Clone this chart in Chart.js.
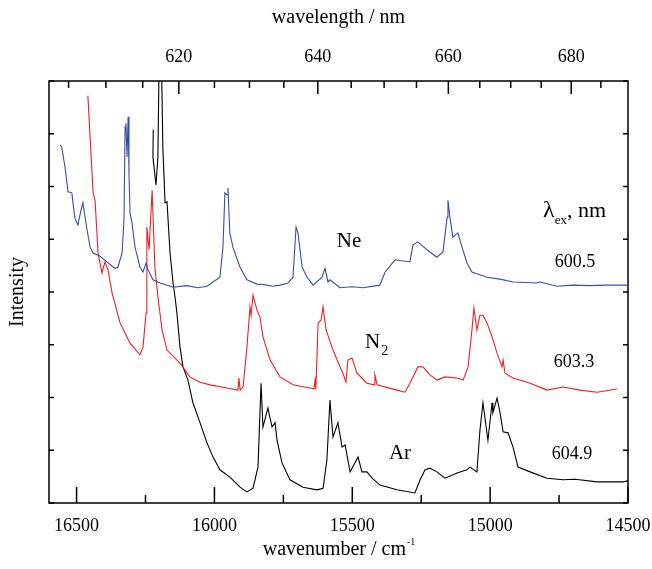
<!DOCTYPE html>
<html>
<head>
<meta charset="utf-8">
<script src="https://cdn.jsdelivr.net/npm/chart.js@4"></script>
<style>
  html, body { margin: 0; padding: 0; background: #fff; }
  #wrap { width: 652px; height: 569px; }
</style>
</head>
<body>
<div id="wrap"><canvas id="spec"></canvas></div>
<script>
// ---- spectra (wavenumber / cm-1, intensity in arbitrary units) ----
const neWn = [16560, 16554, 16542, 16531, 16517, 16513, 16506, 16495, 16484, 16477, 16473, 16462, 16451, 16440, 16415, 16390, 16361, 16350, 16335, 16328, 16324, 16321, 16317, 16313, 16310, 16306, 16299, 16288, 16270, 16259, 16248, 16241, 16223, 16197, 16150, 16100, 16060, 16027, 15980, 15969, 15962, 15954, 15951, 15944, 15933, 15907, 15882, 15846, 15820, 15788, 15762, 15733, 15715, 15704, 15697, 15682, 15664, 15642, 15610, 15599, 15588, 15581, 15545, 15500, 15461, 15400, 15381, 15345, 15291, 15280, 15262, 15229, 15193, 15171, 15156, 15153, 15146, 15135, 15117, 15102, 15084, 15066, 15011, 14960, 14917, 14870, 14830, 14819, 14757, 14700, 14640, 14580, 14504];
const neI  = [6.79, 6.75, 6.37, 5.90, 5.88, 5.69, 5.40, 5.27, 5.55, 5.69, 5.55, 5.18, 4.85, 4.74, 4.68, 4.57, 4.45, 4.47, 4.74, 5.36, 7.13, 7.20, 6.56, 7.32, 6.26, 5.50, 5.31, 4.85, 4.47, 4.38, 4.55, 4.42, 4.23, 4.17, 4.09, 4.12, 4.08, 4.11, 4.28, 4.85, 5.88, 5.84, 5.97, 5.12, 4.85, 4.47, 4.23, 4.15, 4.14, 4.11, 4.13, 4.17, 4.28, 5.23, 5.12, 4.47, 4.28, 4.13, 4.28, 4.45, 4.19, 4.23, 4.08, 4.10, 4.08, 4.13, 4.38, 4.61, 4.57, 4.89, 4.95, 4.80, 4.66, 4.76, 5.42, 5.74, 5.42, 5.04, 5.12, 4.85, 4.55, 4.38, 4.28, 4.24, 4.19, 4.18, 4.17, 4.19, 4.11, 4.13, 4.12, 4.13, 4.13];

const n2Wn = [16459, 16440, 16433, 16422, 16408, 16397, 16386, 16371, 16342, 16306, 16270, 16259, 16248, 16245, 16237, 16226, 16216, 16205, 16190, 16172, 16125, 16089, 16052, 16016, 15954, 15915, 15911, 15907, 15896, 15882, 15871, 15867, 15860, 15846, 15835, 15824, 15798, 15762, 15715, 15653, 15639, 15635, 15632, 15624, 15613, 15606, 15595, 15574, 15555, 15534, 15523, 15516, 15501, 15483, 15447, 15421, 15418, 15410, 15338, 15309, 15291, 15262, 15244, 15218, 15193, 15164, 15120, 15098, 15080, 15066, 15059, 15048, 15037, 15026, 15011, 14993, 14975, 14957, 14953, 14946, 14917, 14855, 14794, 14736, 14674, 14612, 14540];
const n2I  = [7.72, 5.88, 5.74, 4.74, 4.36, 4.57, 4.42, 3.98, 3.41, 3.03, 2.81, 2.96, 3.60, 5.23, 4.80, 5.93, 4.47, 3.91, 3.28, 2.90, 2.65, 2.39, 2.29, 2.24, 2.18, 2.14, 2.37, 2.14, 2.20, 2.96, 3.72, 3.56, 3.94, 3.66, 3.53, 3.15, 2.71, 2.39, 2.24, 2.18, 2.16, 2.33, 2.16, 3.41, 3.47, 3.72, 3.28, 2.96, 2.71, 2.46, 2.29, 2.71, 2.75, 2.46, 2.27, 2.24, 2.43, 2.24, 2.14, 2.10, 2.27, 2.58, 2.58, 2.43, 2.33, 2.39, 2.37, 2.33, 2.58, 3.28, 3.70, 3.28, 3.56, 3.56, 3.41, 3.15, 2.84, 2.58, 2.71, 2.46, 2.37, 2.27, 2.14, 2.20, 2.14, 2.10, 2.16];

const arWn = [16222, 16223, 16212, 16205, 16198, 16194, 16187, 16179, 16172, 16161, 16150, 16143, 16136, 16125, 16114, 16096, 16078, 16052, 16027, 16005, 15980, 15944, 15907, 15882, 15860, 15842, 15831, 15824, 15806, 15791, 15780, 15773, 15755, 15726, 15679, 15628, 15606, 15592, 15581, 15570, 15552, 15537, 15526, 15508, 15479, 15465, 15447, 15428, 15400, 15338, 15273, 15254, 15236, 15218, 15193, 15164, 15120, 15084, 15073, 15048, 15037, 15026, 15008, 14993, 14990, 14975, 14964, 14953, 14935, 14917, 14899, 14855, 14794, 14736, 14692, 14612, 14518, 14500];
const arI  = [7.07, 6.56, 6.03, 6.56, 9.50, 9.00, 6.73, 5.69, 5.71, 4.74, 4.17, 3.91, 3.60, 2.96, 2.58, 2.33, 1.90, 1.52, 1.14, 0.87, 0.63, 0.49, 0.30, 0.21, 0.28, 0.68, 2.27, 1.44, 1.80, 1.44, 1.52, 1.19, 0.76, 0.44, 0.30, 0.25, 0.28, 0.82, 1.95, 1.25, 1.52, 1.06, 1.10, 0.59, 0.87, 0.59, 0.59, 0.47, 0.34, 0.25, 0.19, 0.44, 0.63, 0.66, 0.59, 0.47, 0.57, 0.63, 0.68, 0.59, 1.38, 1.90, 1.19, 1.90, 1.71, 1.99, 1.71, 1.35, 1.33, 1.06, 0.68, 0.59, 0.47, 0.44, 0.45, 0.40, 0.40, 0.42];

// bottom axis ticks (cm-1), labelled every 500
const wnTicks = [16500, 16250, 16000, 15750, 15500, 15250, 15000, 14750, 14500];
// top axis: wavelength ticks (nm), labelled every 20 nm
const nmTicks = [605, 610, 615, 620, 625, 630, 635, 640, 645, 650, 655, 660, 665, 670, 675, 680, 685];
const nmLabelled = [620, 640, 660, 680];

const serif = "'Liberation Serif', 'Times New Roman', serif";

function pts(xs, ys) {
    return xs.map((x, i) => ({ x: x, y: ys[i] }));
}

// frame, inward ticks and in-plot labels
const decor = {
    id: 'decor',
    afterDatasetsDraw(chart) {
        const { ctx, chartArea: a, scales } = chart;
        const x = scales.x, x2 = scales.x2, y = scales.y;
        ctx.save();
        ctx.strokeStyle = '#000';
        ctx.lineWidth = 1.5;
        ctx.strokeRect(a.left, a.top, a.right - a.left, a.bottom - a.top);

        ctx.beginPath();
        x.ticks.forEach(t => {
            const px = x.getPixelForValue(t.value);
            const len = t.value % 500 === 0 ? 16 : 8;
            ctx.moveTo(px, a.bottom);
            ctx.lineTo(px, a.bottom - len);
        });
        x2.ticks.forEach(t => {
            const px = x2.getPixelForValue(t.value);
            const nm = Math.round(1e7 / t.value);
            const len = nm % 20 === 0 ? 13 : 7;
            ctx.moveTo(px, a.top);
            ctx.lineTo(px, a.top + len);
        });
        y.ticks.forEach(t => {
            const py = y.getPixelForValue(t.value);
            ctx.moveTo(a.left, py);
            ctx.lineTo(a.left + 5, py);
            ctx.moveTo(a.right, py);
            ctx.lineTo(a.right - 5, py);
        });
        ctx.stroke();

        ctx.fillStyle = '#000';
        ctx.textBaseline = 'alphabetic';

        // bottom title with superscript
        const main = 'wavenumber / cm';
        ctx.font = '10px ' + serif;
        const supW = ctx.measureText('-1').width;
        ctx.font = '20px ' + serif;
        const mainW = ctx.measureText(main).width;
        const cx = (a.left + a.right) / 2;
        const sx = cx - (mainW + supW) / 2;
        ctx.textAlign = 'left';
        ctx.fillText(main, sx, 555);
        ctx.font = '10px ' + serif;
        ctx.fillText('-1', sx + mainW + 1, 545);

        // species labels
        ctx.font = '21px ' + serif;
        ctx.textAlign = 'center';
        ctx.fillText('Ne', x.getPixelForValue(15512), y.getPixelForValue(4.85));
        ctx.fillText('Ar', x.getPixelForValue(15327), y.getPixelForValue(0.84));
        ctx.textAlign = 'left';
        const nx = x.getPixelForValue(15454), ny = y.getPixelForValue(2.94);
        ctx.fillText('N', nx, ny);
        const nW = ctx.measureText('N').width;
        ctx.font = '14px ' + serif;
        ctx.fillText('2', nx + nW + 1, ny + 7);

        // excitation wavelengths
        ctx.font = '24px ' + serif;
        const lx = x.getPixelForValue(14808), ly = y.getPixelForValue(5.42);
        ctx.fillText('\u03bb', lx, ly);
        const lW = ctx.measureText('\u03bb').width;
        ctx.font = '13px ' + serif;
        ctx.fillText('ex', lx + lW, ly + 7);
        const eW = ctx.measureText('ex').width;
        ctx.font = '22px ' + serif;
        ctx.fillText(', nm', lx + lW + eW, ly);

        ctx.font = '18px ' + serif;
        ctx.textAlign = 'center';
        ctx.fillText('600.5', x.getPixelForValue(14692), y.getPixelForValue(4.48));
        ctx.fillText('603.3', x.getPixelForValue(14696), y.getPixelForValue(2.58));
        ctx.fillText('604.9', x.getPixelForValue(14703), y.getPixelForValue(0.84));
        ctx.restore();
    }
};

const ctx = document.getElementById('spec').getContext('2d');
new Chart(ctx, {
    type: 'line',
    data: {
        datasets: [
            { label: 'Ne', data: pts(neWn, neI), borderColor: '#3450a8' },
            { label: 'N2', data: pts(n2Wn, n2I), borderColor: '#ee2020' },
            { label: 'Ar', data: pts(arWn, arI), borderColor: '#000000' }
        ]
    },
    options: {
        responsive: true,
        maintainAspectRatio: false,
        animation: false,
        layout: { padding: { right: 24, left: 0, top: 0, bottom: 0 } },
        elements: {
            line: { borderWidth: 1.1, tension: 0, fill: false },
            point: { radius: 0 }
        },
        datasets: { line: { clip: 0 } },
        plugins: {
            legend: { display: false },
            tooltip: { enabled: false }
        },
        scales: {
            x: {
                type: 'linear',
                position: 'bottom',
                min: 14500,
                max: 16600,
                reverse: true,
                border: { display: false },
                grid: { display: false, drawTicks: false },
                afterBuildTicks: s => { s.ticks = wnTicks.map(v => ({ value: v })); },
                ticks: {
                    autoSkip: false,
                    maxRotation: 0,
                    padding: 12,
                    color: '#000',
                    font: { family: serif, size: 18 },
                    callback: v => (v % 500 === 0 ? String(v) : '')
                },
                afterFit: s => { s.height = 66; s.paddingLeft = 0; s.paddingRight = 0; }
            },
            x2: {
                type: 'linear',
                position: 'top',
                min: 14500,
                max: 16600,
                reverse: true,
                border: { display: false },
                grid: { display: false, drawTicks: false },
                afterBuildTicks: s => { s.ticks = nmTicks.map(n => ({ value: 1e7 / n })); },
                ticks: {
                    autoSkip: false,
                    maxRotation: 0,
                    padding: 13,
                    color: '#000',
                    font: { family: serif, size: 18 },
                    callback: v => {
                        const nm = Math.round(1e7 / v);
                        return nmLabelled.includes(nm) ? String(nm) : '';
                    }
                },
                title: {
                    display: true,
                    text: 'wavelength / nm',
                    color: '#000',
                    font: { family: serif, size: 20 },
                    padding: { top: 6, bottom: 0 }
                },
                afterFit: s => { s.height = 81; s.paddingLeft = 0; s.paddingRight = 0; }
            },
            y: {
                min: 0,
                max: 8,
                border: { display: false },
                grid: { display: false, drawTicks: false },
                ticks: { stepSize: 1, display: false },
                title: {
                    display: true,
                    text: 'Intensity',
                    color: '#000',
                    font: { family: serif, size: 20 },
                    padding: { top: 6, bottom: 0 }
                },
                afterFit: s => { s.width = 49; }
            }
        }
    },
    plugins: [decor]
});
</script>
</body>
</html>
